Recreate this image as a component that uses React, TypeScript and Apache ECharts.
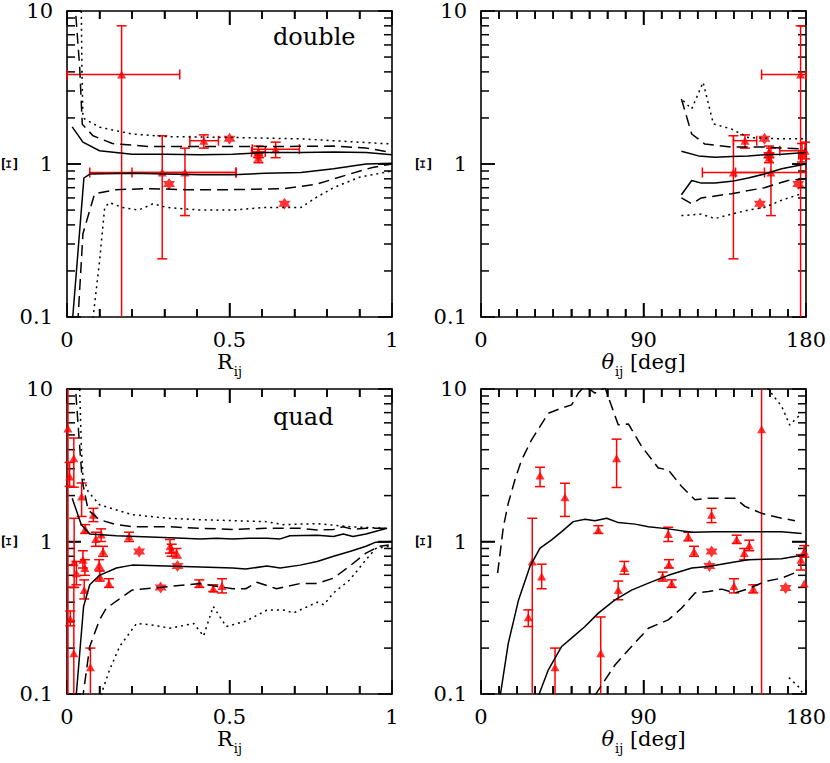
import React, { useEffect, useRef } from "react";
import * as echarts from "echarts";

// ---------- data ----------
const yMinorTicks = [0.2, 0.3, 0.4, 0.5, 0.6, 0.7, 0.8, 0.9, 2, 3, 4, 5, 6, 7, 8, 9];
const yMajorTicks = [1];
const rMinorTicks = [0.1, 0.2, 0.3, 0.4, 0.6, 0.7, 0.8, 0.9];
const rMajorTicks = [0.5];
const tMinorTicks = [10, 20, 30, 40, 50, 60, 70, 80, 100, 110, 120, 130, 140, 150, 160, 170];
const tMajorTicks = [90];

// Panel 1: double, vs R_ij
const dblR_solidUp = [[0.016, 1.75], [0.049, 1.39], [0.1, 1.22], [0.2, 1.16], [0.306, 1.16], [0.41, 1.15], [0.51, 1.16], [0.61, 1.19], [0.72, 1.19], [0.82, 1.2], [0.92, 1.19], [1.0, 1.15]];
const dblR_solidLo = [[0.016, 0.09], [0.052, 0.81], [0.07, 0.86], [0.2, 0.87], [0.41, 0.85], [0.51, 0.85], [0.61, 0.87], [0.72, 0.88], [0.82, 0.93], [0.92, 1.0], [1.0, 1.01]];
const dblR_dashUp = [[0.025, 12], [0.027, 9.5], [0.039, 4.3], [0.047, 1.82], [0.08, 1.53], [0.14, 1.36], [0.255, 1.3], [0.41, 1.3], [0.61, 1.3], [0.82, 1.31], [0.92, 1.27], [1.0, 1.19]];
const dblR_dashLo = [[0.033, 0.09], [0.049, 0.35], [0.085, 0.64], [0.152, 0.68], [0.255, 0.69], [0.36, 0.68], [0.51, 0.68], [0.67, 0.69], [0.77, 0.74], [0.87, 0.86], [0.94, 0.95], [1.0, 1.0]];
const dblR_dotUp = [[0.042, 12], [0.044, 10], [0.046, 4], [0.049, 2.0], [0.1, 1.74], [0.2, 1.57], [0.31, 1.51], [0.51, 1.49], [0.72, 1.46], [0.82, 1.42], [1.0, 1.35]];
const dblR_dotLo = [[0.078, 0.09], [0.1, 0.23], [0.116, 0.52], [0.13, 0.56], [0.17, 0.52], [0.22, 0.5], [0.265, 0.55], [0.306, 0.52], [0.41, 0.5], [0.51, 0.5], [0.61, 0.52], [0.72, 0.52], [0.77, 0.61], [0.82, 0.7], [0.9, 0.82], [1.0, 0.9]];
// [x, y, yLo, yHi, xLo, xHi]
const dblR_tri = [
  [0.168, 3.84, 0.01, 8.0, 0.0, 0.347],
  [0.293, 0.88, 0.24, 1.53, 0.07, 0.52],
  [0.363, 0.88, 0.46, 1.27, 0.2, 0.52],
  [0.421, 1.42, 1.27, 1.55, 0.378, 0.466],
  [0.589, 1.2, 1.1, 1.31, 0.568, 0.61],
  [0.589, 1.1, 1.02, 1.18, null, null],
  [0.642, 1.25, 1.1, 1.39, 0.57, 0.715],
];
const dblR_star = [[0.5, 1.46], [0.314, 0.74], [0.669, 0.55], [0.589, 1.14]];

// Panel 2: double, vs theta_ij
const dblT_solidUp = [[111, 1.21], [120.4, 1.13], [129.6, 1.105], [138.8, 1.12], [148, 1.13], [157, 1.15], [166.5, 1.16], [180, 1.19]];
const dblT_solidLo = [[111, 0.63], [116.7, 0.78], [122, 0.75], [129.6, 0.75], [138.8, 0.77], [148, 0.81], [157, 0.86], [166.5, 0.93], [180, 1.0]];
const dblT_dashUp = [[111, 2.66], [116.7, 1.57], [124, 1.35], [138.8, 1.29], [157, 1.29], [180, 1.25]];
const dblT_dashLo = [[111, 0.6], [116.7, 0.55], [122, 0.6], [138.8, 0.64], [157, 0.7], [170, 0.78], [180, 0.8]];
const dblT_dotUp = [[112, 2.59], [116.7, 2.29], [123, 3.42], [128.7, 1.83], [138.8, 1.69], [148, 1.49], [166.5, 1.46], [180, 1.46]];
const dblT_dotLo = [[111, 0.46], [122, 0.47], [129.6, 0.44], [138.8, 0.47], [148, 0.5], [157, 0.52], [166.5, 0.58], [177.5, 0.64]];
const dblT_tri = [
  [177, 3.84, 0.01, 8.0, 155.4, 180],
  [139.8, 0.88, 0.24, 1.53, 122.6, 157],
  [160.6, 0.88, 0.46, 1.27, 141, 180],
  [146.2, 1.42, 1.27, 1.55, 139.8, 152.7],
  [159.5, 1.2, 1.1, 1.31, null, null],
  [159.5, 1.1, 1.02, 1.18, null, null],
  [179.5, 1.22, 1.08, 1.39, 165.5, 180],
  [177.8, 1.15, 1.03, 1.36, 176, 180],
];
const dblT_star = [[157, 1.46], [175.7, 0.74], [154.5, 0.55], [159.5, 1.14]];

// Panel 3: quad, vs R_ij
const qR_solidUp = [[0.016, 1.92], [0.044, 1.29], [0.07, 1.12], [0.152, 1.09], [0.255, 1.07], [0.358, 1.05], [0.41, 1.04], [0.46, 1.05], [0.51, 1.04], [0.56, 1.05], [0.615, 1.05], [0.656, 1.04], [0.686, 1.09], [0.77, 1.1], [0.82, 1.08], [0.85, 1.12], [0.88, 1.08], [0.92, 1.12], [0.985, 1.22]];
const qR_solidLo = [[0.027, 0.09], [0.051, 0.375], [0.07, 0.52], [0.1, 0.6], [0.152, 0.67], [0.2, 0.7], [0.306, 0.69], [0.41, 0.68], [0.51, 0.67], [0.55, 0.66], [0.615, 0.69], [0.656, 0.67], [0.717, 0.7], [0.77, 0.74], [0.82, 0.8], [0.87, 0.86], [0.92, 0.93], [0.95, 0.99], [1.0, 1.0]];
const qR_dashUp = [[0.025, 12], [0.027, 9.5], [0.039, 4.2], [0.047, 2.5], [0.065, 1.61], [0.1, 1.39], [0.152, 1.29], [0.2, 1.25], [0.31, 1.25], [0.41, 1.22], [0.51, 1.2], [0.61, 1.22], [0.72, 1.22], [0.77, 1.19], [0.82, 1.2], [0.85, 1.25], [0.88, 1.2], [0.92, 1.22], [0.985, 1.22]];
const qR_dashLo = [[0.047, 0.09], [0.07, 0.205], [0.1, 0.306], [0.121, 0.365], [0.2, 0.48], [0.286, 0.5], [0.41, 0.53], [0.51, 0.49], [0.55, 0.49], [0.584, 0.54], [0.645, 0.49], [0.717, 0.53], [0.77, 0.53], [0.82, 0.575], [0.87, 0.69], [0.92, 0.84], [0.96, 0.93], [0.99, 0.95]];
const qR_dotUp = [[0.037, 12], [0.039, 10], [0.044, 4.2], [0.049, 2.67], [0.065, 2.13], [0.1, 1.74], [0.2, 1.5], [0.31, 1.42], [0.41, 1.39], [0.51, 1.37], [0.61, 1.35], [0.666, 1.29], [0.77, 1.31], [0.87, 1.25], [0.985, 1.22]];
const qR_dotLo = [[0.098, 0.09], [0.131, 0.144], [0.162, 0.205], [0.214, 0.29], [0.255, 0.285], [0.317, 0.27], [0.39, 0.29], [0.42, 0.24], [0.45, 0.375], [0.49, 0.277], [0.55, 0.3], [0.615, 0.355], [0.666, 0.355], [0.697, 0.34], [0.77, 0.4], [0.79, 0.385], [0.82, 0.46], [0.87, 0.56], [0.92, 0.76], [0.95, 0.9], [0.99, 0.93]];
const qR_tri = [
  [0.003, 5.5, 0.01, 100, null, null],
  [0.021, 3.52, 2.27, 4.77, null, null],
  [0.008, 2.67, 2.3, 3.3, null, null],
  [0.045, 1.97, 1.46, 2.42, null, null],
  [0.081, 1.5, 1.35, 1.65, null, null],
  [0.056, 1.21, 1.13, 1.29, null, null],
  [0.0885, 1.04, 0.93, 1.15, null, null],
  [0.105, 1.11, 1.0, 1.21, null, null],
  [0.191, 1.08, 1.0, 1.15, null, null],
  [0.111, 0.86, 0.8, 0.93, null, null],
  [0.022, 0.73, 0.5, 1.42, null, null],
  [0.049, 0.76, 0.67, 0.87, null, null],
  [0.055, 0.67, 0.6, 0.76, null, null],
  [0.099, 0.7, 0.65, 0.76, null, null],
  [0.101, 0.59, 0.55, 0.64, null, null],
  [0.029, 0.62, 0.52, 0.74, null, null],
  [0.129, 0.53, 0.5, 0.57, null, null],
  [0.053, 0.48, 0.42, 0.56, null, null],
  [0.01, 0.31, 0.28, 0.35, null, null],
  [0.021, 0.185, 0.01, 0.5, null, null],
  [0.072, 0.15, 0.01, 0.2, null, null],
  [0.317, 0.93, 0.84, 1.03, null, null],
  [0.322, 0.88, 0.8, 0.96, null, null],
  [0.337, 0.84, 0.78, 0.9, null, null],
  [0.407, 0.53, 0.5, 0.56, null, null],
  [0.45, 0.49, 0.47, 0.52, null, null],
  [0.477, 0.51, 0.46, 0.57, null, null],
];
const qR_star = [[0.222, 0.86], [0.288, 0.5], [0.34, 0.69]];

// Panel 4: quad, vs theta_ij
const qT_solidUp = [[10.2, 0.09], [15.1, 0.215], [20.7, 0.41], [27.1, 0.686], [32.7, 0.905], [39.1, 1.025], [44.7, 1.16], [51.1, 1.35], [57.6, 1.4], [63.1, 1.37], [69.6, 1.42], [76.1, 1.33], [85.3, 1.3], [92.7, 1.25], [103.7, 1.21], [116.7, 1.15], [129.6, 1.16], [148, 1.16], [166.5, 1.16], [177.6, 1.13]];
const qT_solidLo = [[31.5, 0.095], [37.3, 0.144], [44.7, 0.205], [51.1, 0.238], [57.6, 0.277], [65, 0.339], [74.2, 0.414], [83.4, 0.48], [92.7, 0.533], [103.7, 0.6], [116.7, 0.67], [125.9, 0.686], [138.8, 0.728], [148, 0.758], [157.3, 0.766], [166.5, 0.77], [179.4, 0.818]];
const qT_dashUp = [[9.2, 0.62], [12.4, 1.25], [15.1, 1.78], [18.8, 2.54], [22.5, 3.43], [28, 4.64], [37.3, 6.94], [44.7, 7.49], [50.2, 7.87], [53.9, 9.4], [57.6, 10.5], [63.1, 9.4], [68.7, 10.2], [76, 5.82], [81.6, 5.9], [89, 4.2], [98.2, 3.03], [103.7, 2.95], [111, 2.3], [118.5, 1.88], [125.9, 1.92], [140.7, 1.92], [146.2, 1.7], [155.4, 1.53], [166.5, 1.42], [173.9, 1.37]];
const qT_dashLo = [[63.1, 0.098], [74.2, 0.155], [83.4, 0.205], [92.7, 0.27], [103.7, 0.306], [111, 0.365], [118.5, 0.46], [125.9, 0.47], [133.3, 0.487], [140.7, 0.46], [148, 0.49], [157.3, 0.546], [166.5, 0.575], [175.7, 0.636]];
const qT_dotUp = [[157.5, 11], [159, 10], [166.5, 7.7], [171, 5.8], [173.9, 6.3], [177.6, 6.9]];
const qT_dotLo = [[170.5, 0.128], [175.7, 0.112], [179, 0.098]];
const qT_tri = [
  [26.2, 0.319, 0.277, 0.356, null, null],
  [28.4, 0.74, 0.01, 1.42, null, null],
  [32.7, 2.71, 2.29, 3.07, null, null],
  [33.6, 0.59, 0.49, 0.71, null, null],
  [41, 0.15, 0.01, 0.2, null, null],
  [46.5, 1.95, 1.46, 2.41, null, null],
  [65, 1.19, 1.13, 1.27, null, null],
  [66.3, 0.185, 0.01, 0.32, null, null],
  [75.1, 3.52, 2.26, 4.69, null, null],
  [76, 0.48, 0.415, 0.55, null, null],
  [79.4, 0.67, 0.61, 0.74, null, null],
  [100.6, 0.59, 0.55, 0.63, null, null],
  [103.7, 1.12, 1.0, 1.24, null, null],
  [104.1, 0.71, 0.67, 0.76, null, null],
  [105.6, 0.53, 0.5, 0.56, null, null],
  [114.8, 1.08, 1.01, 1.15, null, null],
  [118, 0.86, 0.8, 0.93, null, null],
  [127.7, 1.5, 1.33, 1.65, null, null],
  [141.6, 1.03, 0.97, 1.1, null, null],
  [140.1, 0.51, 0.46, 0.57, null, null],
  [145.8, 0.84, 0.76, 0.9, null, null],
  [148.6, 0.94, 0.87, 1.02, null, null],
  [150.8, 0.49, 0.46, 0.52, null, null],
  [155.4, 5.45, 0.01, 100, null, null],
  [177.2, 0.76, 0.65, 0.82, null, null],
  [179, 0.86, 0.79, 0.94, null, null],
  [179, 0.53, null, null, null, null],
];
const qT_star = [[127.7, 0.86], [126.5, 0.69], [168.7, 0.495]];

// ---------- chart ----------
const FONT = "DejaVu Serif";
const RED = "#ff0000";
const STAR = "path://M0,-10 L2.89,-5 L8.66,-5 L5.77,0 L8.66,5 L2.89,5 L0,10 L-2.89,5 L-8.66,5 L-5.77,0 L-8.66,-5 L-2.89,-5 Z";

const gridBoxes = [
  { left: 67, top: 11, width: 325, height: 306 },
  { left: 481, top: 11, width: 325, height: 306 },
  { left: 67, top: 389, width: 325, height: 305 },
  { left: 481, top: 389, width: 325, height: 305 },
];

const panels = [
  { xMax: 1, xInt: 0.5, minor: 5, kind: "R", xMinor: rMinorTicks, xMajor: rMajorTicks, lines: [dblR_solidUp, dblR_solidLo, dblR_dashUp, dblR_dashLo, dblR_dotUp, dblR_dotLo], tri: dblR_tri, star: dblR_star },
  { xMax: 180, xInt: 90, minor: 9, kind: "T", xMinor: tMinorTicks, xMajor: tMajorTicks, lines: [dblT_solidUp, dblT_solidLo, dblT_dashUp, dblT_dashLo, dblT_dotUp, dblT_dotLo], tri: dblT_tri, star: dblT_star },
  { xMax: 1, xInt: 0.5, minor: 5, kind: "R", xMinor: rMinorTicks, xMajor: rMajorTicks, lines: [qR_solidUp, qR_solidLo, qR_dashUp, qR_dashLo, qR_dotUp, qR_dotLo], tri: qR_tri, star: qR_star },
  { xMax: 180, xInt: 90, minor: 9, kind: "T", xMinor: tMinorTicks, xMajor: tMajorTicks, lines: [qT_solidUp, qT_solidLo, qT_dashUp, qT_dashLo, qT_dotUp, qT_dotLo], tri: qT_tri, star: qT_star },
];
const lineTypes: any[] = ["solid", "solid", [11, 6], [11, 6], [2, 4], [2, 4]];

function buildOption() {
  const xAxis: any[] = [];
  const yAxis: any[] = [];
  const series: any[] = [];

  panels.forEach((p, i) => {
    const mkX = (pos: string) => ({
      type: "value", gridIndex: i, position: pos, min: 0, max: p.xMax, interval: p.xInt,
      axisLine: { show: true, onZero: false, lineStyle: { color: "#000", width: 1.6 } },
      axisTick: { show: true, inside: true, length: 14, lineStyle: { color: "#000", width: 1.5 } },
      minorTick: { show: true, splitNumber: p.minor, length: 8, lineStyle: { color: "#000", width: 1.5 } },
      splitLine: { show: false },
    });
    const mkY = (pos: string) => ({
      type: "log", gridIndex: i, position: pos, min: 0.1, max: 10, splitNumber: 2,
      axisLine: { show: true, onZero: false, lineStyle: { color: "#000", width: 1.6 } },
      axisTick: { show: true, inside: true, length: 14, lineStyle: { color: "#000", width: 1.5 } },
      splitLine: { show: false },
    });
    xAxis.push({
      ...mkX("bottom"),
      axisLabel: { fontFamily: FONT, fontSize: 21, color: "#000", margin: 12 },
      name: p.kind === "R" ? "{a|R}{b|ij}" : "{t|θ}{b|ij}{a| [deg]}",
      nameLocation: "middle", nameGap: 34, nameMoveOverlap: false,
      nameTextStyle: {
        rich: {
          a: { fontFamily: FONT, fontSize: 21, color: "#000", lineHeight: 24, verticalAlign: "top" },
          t: { fontFamily: FONT, fontSize: 21, fontStyle: "italic", color: "#000", lineHeight: 24, verticalAlign: "top" },
          b: { fontFamily: FONT, fontSize: 13, color: "#000", lineHeight: 16, padding: [14, 0, 0, 1], verticalAlign: "top" },
        },
      },
    });
    xAxis.push({ ...mkX("top"), axisLabel: { show: false } });
    yAxis.push({
      ...mkY("left"),
      axisLabel: { fontFamily: FONT, fontSize: 21, color: "#000", margin: 14, formatter: (v: number) => (v < 1 ? v.toFixed(1) : String(Math.round(v))) },
      name: "Ξ", nameLocation: "middle", nameGap: 47, nameMoveOverlap: false,
      nameTextStyle: { fontSize: 21, fontFamily: FONT, color: "#000" },
    });
    yAxis.push({ ...mkY("right"), axisLabel: { show: false } });

    const xi = 2 * i, yi = 2 * i;
    p.lines.forEach((ln, k) => {
      series.push({
        type: "line", xAxisIndex: xi, yAxisIndex: yi, data: ln, symbol: "none", clip: true,
        lineStyle: { color: "#000", width: 1.5, type: lineTypes[k] },
      });
    });
    const errData = p.tri;
    series.push({
      type: "custom", xAxisIndex: xi, yAxisIndex: yi, clip: false,
      data: errData.map((d) => [d[0], d[1]]),
      encode: { x: 0, y: 1 },
      renderItem: (params: any, api: any) => {
        const d = errData[params.dataIndex];
        const cs = params.coordSys;
        const top = cs.y, bot = cs.y + cs.height, lft = cs.x, rgt = cs.x + cs.width;
        const c = api.coord([d[0], d[1]]);
        const st = { stroke: RED, lineWidth: 1.5, fill: "none" };
        const ch: any[] = [];
        if (params.dataIndex === 0) {
          // frame ticks, placed through the axes' scales
          const tk = { stroke: "#000", lineWidth: 1.5, fill: "none" };
          const yTick = (v: number, len: number) => {
            const yy = api.coord([0, v])[1];
            ch.push({ type: "line", shape: { x1: lft, y1: yy, x2: lft + len, y2: yy }, style: tk });
            ch.push({ type: "line", shape: { x1: rgt - len, y1: yy, x2: rgt, y2: yy }, style: tk });
          };
          const xTick = (v: number, len: number) => {
            const xx = api.coord([v, 1])[0];
            ch.push({ type: "line", shape: { x1: xx, y1: bot, x2: xx, y2: bot - len }, style: tk });
            ch.push({ type: "line", shape: { x1: xx, y1: top, x2: xx, y2: top + len }, style: tk });
          };
          yMinorTicks.forEach((v) => yTick(v, 8));
          yMajorTicks.forEach((v) => yTick(v, 14));
          p.xMinor.forEach((v) => xTick(v, 8));
          p.xMajor.forEach((v) => xTick(v, 14));
        }
        if (d[2] != null && d[3] != null) {
          let y1 = api.coord([d[0], d[3]])[1];
          let y2 = api.coord([d[0], d[2]])[1];
          const capHi = y1 >= top - 0.5, capLo = y2 <= bot + 0.5;
          y1 = Math.max(y1, top); y2 = Math.min(y2, bot);
          ch.push({ type: "line", shape: { x1: c[0], y1, x2: c[0], y2 }, style: st });
          if (capHi) ch.push({ type: "line", shape: { x1: c[0] - 5, y1, x2: c[0] + 5, y2: y1 }, style: st });
          if (capLo) ch.push({ type: "line", shape: { x1: c[0] - 5, y1: y2, x2: c[0] + 5, y2 }, style: st });
        }
        if (d[4] != null && d[5] != null) {
          let x1 = api.coord([d[4], d[1]])[0];
          let x2 = api.coord([d[5], d[1]])[0];
          x1 = Math.max(x1, lft); x2 = Math.min(x2, rgt);
          ch.push({ type: "line", shape: { x1, y1: c[1], x2, y2: c[1] }, style: st });
          ch.push({ type: "line", shape: { x1, y1: c[1] - 5, x2: x1, y2: c[1] + 5 }, style: st });
          ch.push({ type: "line", shape: { x1: x2, y1: c[1] - 5, x2, y2: c[1] + 5 }, style: st });
        }
        return { type: "group", children: ch };
      },
    });
    series.push({
      type: "scatter", xAxisIndex: xi, yAxisIndex: yi, clip: false,
      data: p.tri.map((d) => [d[0], d[1]]), symbol: "triangle", symbolSize: [9, 8],
      itemStyle: { color: RED },
    });
    series.push({
      type: "scatter", xAxisIndex: xi, yAxisIndex: yi, clip: false,
      data: p.star, symbol: STAR, symbolSize: 12, itemStyle: { color: RED },
    });
  });

  return {
    animation: false,
    grid: gridBoxes.map((g) => ({ ...g, containLabel: false, outerBoundsMode: "none" })),
    xAxis, yAxis, series,
    graphic: [
      { type: "text", left: 273, top: 25, style: { text: "double", font: `24px "${FONT}"`, fill: "#000" } },
      { type: "text", left: 273, top: 405, style: { text: "quad", font: `24px "${FONT}"`, fill: "#000" } },
    ],
  };
}

export default function App() {
  const ref = useRef<HTMLDivElement>(null);
  useEffect(() => {
    if (!ref.current) return;
    const chart = echarts.init(ref.current, null, { renderer: "svg" });
    chart.setOption(buildOption() as any);
    return () => chart.dispose();
  }, []);
  return <div ref={ref} style={{ position: "fixed", left: 0, top: 0, width: 830, height: 763, background: "#fff" }} />;
}
